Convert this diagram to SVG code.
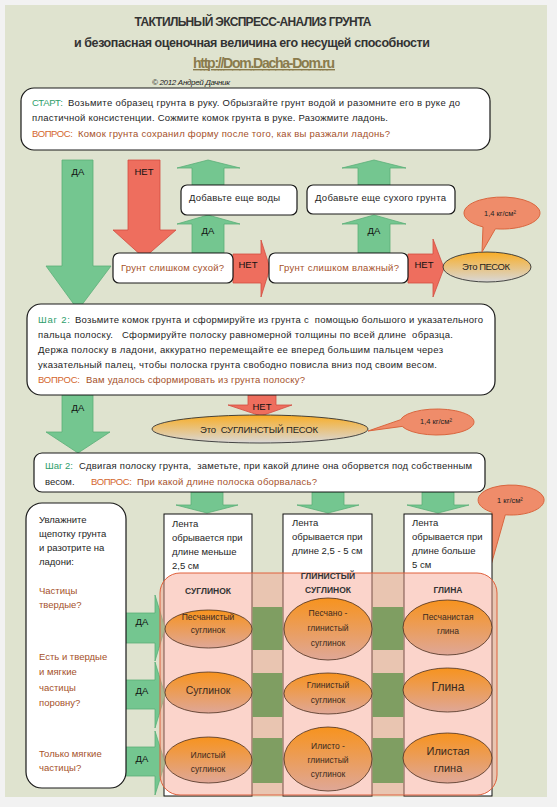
<svg xmlns="http://www.w3.org/2000/svg" width="557" height="807" viewBox="0 0 557 807">
<style>
text{font-family:"Liberation Sans",Arial,sans-serif;font-size:9.5px;fill:#1e1e1e;white-space:pre}
.g{fill:#2e9e6b}
.q{fill:#d4672e}
.b{fill:#a5512a}
.m{text-anchor:middle}
.lab{font-size:9.5px;text-anchor:middle;fill:#111}
.ga{fill:#74c690;stroke:#5aae77;stroke-width:0.8}
.ra{fill:#ee6e5e;stroke:#d24d40;stroke-width:0.8}
.box{fill:#fff;stroke:#1a1a1a;stroke-width:1.2}
.col{fill:#fff;stroke:#111;stroke-width:1}
.el{fill:url(#soil);stroke:#4a2e1e;stroke-width:0.8}
.et{font-size:8.5px;text-anchor:middle;fill:#3a2a20}
.co{fill:#ef8c6a;stroke:#d9663f;stroke-width:1}
.ct{font-size:7.5px;text-anchor:middle;fill:#222}
.hd{font-size:8.5px;font-weight:bold;text-anchor:middle;fill:#333}
.gb{fill:#7f9e62}
</style>
<defs>
<linearGradient id="soil" x1="0" y1="0" x2="0" y2="1"><stop offset="0" stop-color="#f7931e"/><stop offset="1" stop-color="#dfa797"/></linearGradient>
<linearGradient id="sand" x1="0" y1="0" x2="0" y2="1"><stop offset="0" stop-color="#f9ad25"/><stop offset="1" stop-color="#d8d8d8"/></linearGradient>
</defs>
<rect x="0" y="0" width="557" height="807" fill="#f2f2f2"/>
<rect x="5" y="5" width="542" height="792" fill="#dfe3cf"/>

<g id="title">
<text x="253" y="26" class="m" font-weight="bold" style="font-size:12px;fill:#333" textLength="237">ТАКТИЛЬНЫЙ ЭКСПРЕСС-АНАЛИЗ ГРУНТА</text>
<text x="252" y="47" class="m" font-weight="bold" style="font-size:12.5px;fill:#333" textLength="356">и безопасная оценочная величина его несущей способности</text>
<text x="264" y="68" class="m" font-weight="bold" text-decoration="underline" style="font-size:14px;fill:#8a7b4c" textLength="142">http://Dom.Dacha-Dom.ru</text>
<text x="191" y="85" class="m" font-style="italic" style="font-size:8px;fill:#222" textLength="78">© 2012 Андрей Дачник</text>
</g>

<g id="connectors">
<path class="ga" d="M62,160 L93,160 L93,266 L111,266 L78,310 L46,266 L62,266 Z"/>
<path class="ra" d="M128,160 L160,160 L160,230 L176,230 L144,258 L113,230 L128,230 Z"/>
<path class="ga" d="M192,185 L192,168 L177,168 L208,160 L240,168 L224,168 L224,185 Z"/>
<path class="ga" d="M192,253 L192,224 L177,224 L208,215 L240,224 L224,224 L224,253 Z"/>
<path class="ga" d="M358,185 L358,168 L342,168 L374,160 L406,168 L390,168 L390,185 Z"/>
<path class="ga" d="M358,253 L358,224 L342,224 L374,215 L406,224 L390,224 L390,253 Z"/>
<path class="ra" d="M233,254 L261,254 L261,240 L270,268 L261,297 L261,283 L233,283 Z"/>
<path class="ra" d="M408,254 L433,254 L433,239 L444,268 L433,297 L433,283 L408,283 Z"/>
<path class="ga" d="M62,395 L93,395 L93,432 L110,432 L78,453 L46,432 L62,432 Z"/>
<path class="ra" d="M248,395 L276,395 L276,405 L292,405 L261,416 L228,405 L248,405 Z"/>
<path class="ga" d="M191,492 L223,492 L223,505 L238,505 L207,513 L176,505 L191,505 Z"/>
<path class="ga" d="M312,492 L344,492 L344,505 L359,505 L328,513 L297,505 L312,505 Z"/>
<path class="ga" d="M422,492 L454,492 L454,505 L469,505 L438,513 L407,505 L422,505 Z"/>
<text class="lab" x="78" y="175">ДА</text>
<text class="lab" x="144" y="175">НЕТ</text>
<text class="lab" x="208" y="234">ДА</text>
<text class="lab" x="374" y="234">ДА</text>
<text class="lab" x="248" y="268">НЕТ</text>
<text class="lab" x="424" y="268">НЕТ</text>
<text class="lab" x="78" y="411">ДА</text>
<text class="lab" x="262" y="410">НЕТ</text>
</g>

<g id="start">
<rect class="box" x="21" y="88" width="469" height="62" rx="13"/>
<text class="g" x="32" y="106" textLength="31">СТАРТ:</text>
<text x="68" y="106" textLength="392">Возьмите образец грунта в руку. Обрызгайте грунт водой и разомните его в руке до</text>
<text x="32" y="121" textLength="356">пластичной консистенции. Сожмите комок грунта в руке. Разожмите ладонь.</text>
<text class="q" x="32" y="137" textLength="41">ВОПРОС:</text>
<text class="b" x="78" y="137" textLength="312">Комок грунта сохранил форму после того, как вы разжали ладонь?</text>
</g>

<g id="water">
<rect class="box" x="181" y="185" width="116" height="30" rx="6"/>
<text x="189" y="201" textLength="91">Добавьте еще воды</text>
</g>
<g id="drysoil">
<rect class="box" x="307" y="185" width="148" height="29" rx="6"/>
<text x="315" y="201" textLength="131">Добавьте еще сухого грунта</text>
</g>
<g id="dry">
<rect class="box" x="113" y="253" width="120" height="30" rx="6"/>
<text class="b" x="121" y="271" textLength="103">Грунт слишком сухой?</text>
</g>
<g id="wet">
<rect class="box" x="269" y="253" width="139" height="30" rx="6"/>
<text class="b" x="279" y="271" textLength="120">Грунт слишком влажный?</text>
</g>
<g id="sand">
<ellipse cx="487" cy="267" rx="44" ry="15" fill="url(#sand)" stroke="#333" stroke-width="0.9"/>
<text class="m" x="486" y="270" textLength="48">Это ПЕСОК</text>
</g>
<g id="callout1">
<path class="co" d="M495.4,228.8 A38,16 0 1 0 483,226.9 L482,252 Z"/>
<text class="ct" x="500" y="216">1,4 кг/см²</text>
</g>

<g id="step2">
<rect class="box" x="27" y="304" width="468" height="91" rx="14"/>
<text class="g" x="38" y="323" textLength="32">Шаг 2:</text>
<text x="75" y="323" textLength="408">Возьмите комок грунта и сформируйте из грунта с  помощью большого и указательного</text>
<text x="38" y="338" textLength="415">пальца полоску.   Сформируйте полоску равномерной толщины по всей длине  образца.</text>
<text x="38" y="353" textLength="405">Держа полоску в ладони, аккуратно перемещайте ее вперед большим пальцем через</text>
<text x="38" y="368" textLength="399">указательный палец, чтобы полоска грунта свободно повисла вниз под своим весом.</text>
<text class="q" x="38" y="383" textLength="42">ВОПРОС:</text>
<text class="b" x="86" y="383" textLength="219">Вам удалось сформировать из грунта полоску?</text>
</g>

<g id="sandyloam">
<ellipse cx="260" cy="429" rx="108" ry="14" fill="url(#sand)" stroke="#333" stroke-width="0.9"/>
<text class="m" x="259" y="433" textLength="118">Это  СУГЛИНСТЫЙ ПЕСОК</text>
</g>
<g id="callout2">
<path class="co" d="M402.2,426.4 A37,13 0 1 0 400.6,419.7 L368,431 Z"/>
<text class="ct" x="436" y="424">1,4 кг/см²</text>
</g>

<g id="step2b">
<rect class="box" x="34" y="453" width="451" height="39" rx="8"/>
<text class="g" x="45" y="469" textLength="28">Шаг 2:</text>
<text x="79" y="469" textLength="393">Сдвигая полоску грунта,  заметьте, при какой длине она оборвется под собственным</text>
<text x="45" y="485">весом.</text>
<text class="q" x="91" y="485" textLength="41">ВОПРОС:</text>
<text class="b" x="137" y="485" textLength="180">При какой длине полоска оборвалась?</text>
</g>

<g id="callout3">
<path class="co" d="M505.3,514.8 A33,15 0 1 0 492.1,512.3 L486,583 Z"/>
<text class="ct" x="510" y="503">1 кг/см²</text>
</g>

<g id="columns">
<rect class="col" x="164" y="514" width="88" height="282"/>
<rect class="col" x="283" y="514" width="89" height="282"/>
<rect class="col" x="404" y="514" width="88" height="282"/>
<text x="172" y="527">Лента</text>
<text x="172" y="541">обрывается при</text>
<text x="172" y="555">длине меньше</text>
<text x="172" y="569">2,5 см</text>
<text x="292" y="526">Лента</text>
<text x="292" y="540">обрывается при</text>
<text x="292" y="554">длине 2,5 - 5 см</text>
<text x="412" y="526">Лента</text>
<text x="412" y="540">обрывается при</text>
<text x="412" y="554">длине больше</text>
<text x="412" y="568">5 см</text>
</g>

<g id="yes-arrows">
<path class="ga" d="M118,613 L155,613 L155,595 L165,628 L155,661 L155,643 L118,643 Z"/>
<path class="ga" d="M118,680 L155,680 L155,662 L165,695 L155,728 L155,709 L118,709 Z"/>
<path class="ga" d="M118,747 L155,747 L155,731 L165,763 L155,795 L155,776 L118,776 Z"/>
<text class="lab" x="142" y="625">ДА</text>
<text class="lab" x="142" y="694">ДА</text>
<text class="lab" x="142" y="762">ДА</text>
</g>

<g id="left">
<rect class="box" x="26" y="503" width="100" height="285" rx="16"/>
<text x="39" y="523">Увлажните</text>
<text x="39" y="537">щепотку грунта</text>
<text x="39" y="551">и разотрите на</text>
<text x="39" y="565">ладони:</text>
<text class="b" x="39" y="594">Частицы</text>
<text class="b" x="39" y="608">твердые?</text>
<text class="b" x="39" y="660">Есть и твердые</text>
<text class="b" x="39" y="675">и мягкие</text>
<text class="b" x="39" y="691">частицы</text>
<text class="b" x="39" y="706">поровну?</text>
<text class="b" x="39" y="757">Только мягкие</text>
<text class="b" x="39" y="771">частицы?</text>
</g>

<g id="classes">
<rect x="160" y="573" width="337" height="222" rx="20" fill="#f7a08c" fill-opacity="0.45" stroke="#e0603c" stroke-width="1"/>
<rect class="gb" x="252.5" y="607" width="30" height="43"/>
<rect class="gb" x="252.5" y="673" width="30" height="44"/>
<rect class="gb" x="252.5" y="738" width="30" height="45"/>
<rect class="gb" x="372.5" y="607" width="31" height="43"/>
<rect class="gb" x="372.5" y="673" width="31" height="44"/>
<rect class="gb" x="372.5" y="738" width="31" height="45"/>
<text class="hd" x="208" y="594">СУГЛИНОК</text>
<text class="hd" x="328" y="579">ГЛИНИСТЫЙ</text>
<text class="hd" x="328" y="593">СУГЛИНОК</text>
<text class="hd" x="448" y="593">ГЛИНА</text>
</g>

<g id="e11"><ellipse class="el" cx="208.5" cy="629" rx="43.5" ry="19"/><text class="et" x="208" y="620">Песчанистый</text><text class="et" x="208" y="633">суглинок</text></g>
<g id="e12"><ellipse class="el" cx="208.5" cy="692.5" rx="43.5" ry="20.5"/><text class="et" x="208" y="694" style="font-size:10.5px">Суглинок</text></g>
<g id="e13"><ellipse class="el" cx="208.5" cy="760" rx="43.5" ry="23"/><text class="et" x="208" y="758">Илистый</text><text class="et" x="208" y="772">суглинок</text></g>
<g id="e21"><ellipse class="el" cx="328" cy="629" rx="44" ry="31"/><text class="et" x="328" y="616">Песчано -</text><text class="et" x="328" y="631">глинистый</text><text class="et" x="328" y="646">суглинок</text></g>
<g id="e22"><ellipse class="el" cx="328" cy="693.5" rx="44" ry="20.5"/><text class="et" x="328" y="688">Глинистый</text><text class="et" x="328" y="703">суглинок</text></g>
<g id="e23"><ellipse class="el" cx="328" cy="759" rx="44" ry="32"/><text class="et" x="328" y="749">Илисто -</text><text class="et" x="328" y="763">глинистый</text><text class="et" x="328" y="777">суглинок</text></g>
<g id="e31"><ellipse class="el" cx="447.5" cy="627.5" rx="44.5" ry="27.5"/><text class="et" x="448" y="620">Песчанистая</text><text class="et" x="448" y="634">глина</text></g>
<g id="e32"><ellipse class="el" cx="447.5" cy="690" rx="44.5" ry="22"/><text class="et" x="448" y="691" style="font-size:12px">Глина</text></g>
<g id="e33"><ellipse class="el" cx="447.5" cy="758" rx="44.5" ry="25"/><text class="et" x="448" y="755" style="font-size:11px">Илистая</text><text class="et" x="448" y="772" style="font-size:11px">глина</text></g>
</svg>
